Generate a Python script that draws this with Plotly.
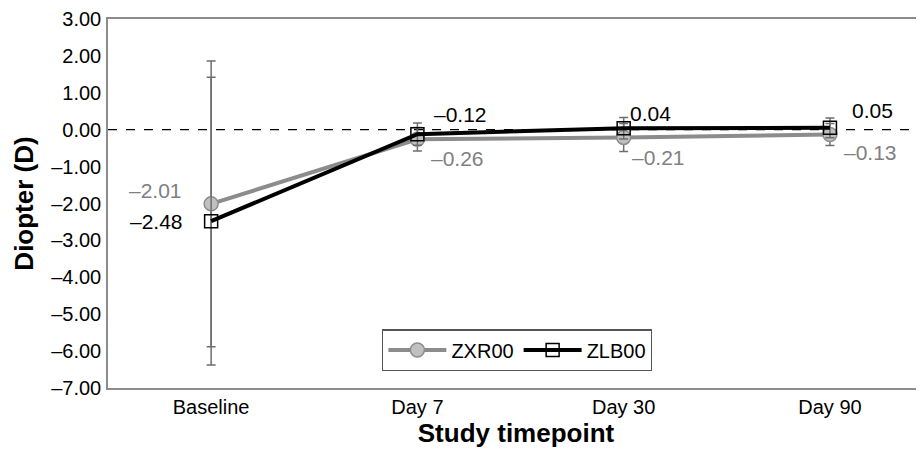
import plotly.graph_objects as go

categories = ["Baseline", "Day 7", "Day 30", "Day 90"]
zxr_mean = [-2.01, -0.26, -0.21, -0.13]
zxr_sd = [3.87, 0.32, 0.38, 0.30]
zlb_mean = [-2.48, -0.12, 0.04, 0.05]
zlb_sd = [3.90, 0.30, 0.29, 0.27]
ytick_vals = [3, 2, 1, 0, -1, -2, -3, -4, -5, -6, -7]
ytick_text = ["3.00", "2.00", "1.00", "0.00", "–1.00", "–2.00", "–3.00",
              "–4.00", "–5.00", "–6.00", "–7.00"]

def fmt(v):
    s = f"{abs(v):.2f}"
    return ("–" + s) if v < 0 else s

FONT = "Arial, Liberation Sans, sans-serif"
GRAY = "#8c8c8c"

fig = go.Figure()
fig.add_trace(go.Scatter(
    x=categories, y=zxr_mean, name="ZXR00", mode="lines+markers",
    line=dict(color=GRAY, width=4),
    marker=dict(symbol="circle", size=14, color="#c0c0c0",
                line=dict(color="#8c8c8c", width=1.5)),
    error_y=dict(type="data", array=zxr_sd, visible=True,
                 color="#6e6e6e", thickness=1.5, width=4.5),
))
fig.add_trace(go.Scatter(
    x=categories, y=zlb_mean, name="ZLB00", mode="lines+markers",
    line=dict(color="black", width=4),
    marker=dict(symbol="square-open", size=13, color="black",
                line=dict(color="black", width=1.5)),
    error_y=dict(type="data", array=zlb_sd, visible=True,
                 color="#6e6e6e", thickness=1.5, width=4.5),
))

# label offsets (style only)
zxr_shift = [(-27, 13, "right"), (12, -19, "left"), (6, -20, "left"), (12, -18, "left")]
zlb_shift = [(-26, 0, "right"), (15, 20, "left"), (4, 15, "left"), (20, 17, "left")]

annotations = []
for i, c in enumerate(categories):
    dx, dy, anc = zxr_shift[i]
    annotations.append(dict(x=c, y=zxr_mean[i], xref="x", yref="y",
                            text=fmt(zxr_mean[i]), showarrow=False,
                            xanchor=anc, yanchor="middle", xshift=dx, yshift=dy,
                            font=dict(family=FONT, size=21, color="#7f7f7f")))
    dx, dy, anc = zlb_shift[i]
    annotations.append(dict(x=c, y=zlb_mean[i], xref="x", yref="y",
                            text=fmt(zlb_mean[i]), showarrow=False,
                            xanchor=anc, yanchor="middle", xshift=dx, yshift=dy,
                            font=dict(family=FONT, size=21, color="black")))

fig.update_layout(
    width=916, height=450,
    margin=dict(l=100, r=0, t=8, b=70),
    paper_bgcolor="white", plot_bgcolor="white",
    font=dict(family=FONT, size=20, color="black"),
    showlegend=True,
    legend=dict(orientation="h", x=0.336, y=0.159, xanchor="left", yanchor="top",
                bgcolor="white", bordercolor="#555555", borderwidth=1.2,
                font=dict(family=FONT, size=20, color="black"),
                itemwidth=58, tracegroupgap=0),
    annotations=annotations,
    shapes=[dict(type="line", xref="paper", yref="y", x0=0, x1=1, y0=0, y1=0,
                 line=dict(color="black", width=1.3, dash="dash"), layer="below")],
    xaxis=dict(range=[-0.5, 3.456], showgrid=False, zeroline=False,
               showline=True, linecolor="#8c8c8c", linewidth=1.5, mirror=True,
               ticks="", tickfont=dict(family=FONT, size=20),
               title=dict(text="<b>Study timepoint</b>", standoff=4,
                          font=dict(family=FONT, size=26))),
    yaxis=dict(range=[-7, 3], tickvals=ytick_vals, ticktext=ytick_text,
               showgrid=False, zeroline=False, showline=True,
               linecolor="#8c8c8c", linewidth=1.5, ticks="",
               ticklabelstandoff=1, ticklabeloverflow="allow",
               tickfont=dict(family=FONT, size=20),
               title=dict(text="<b>Diopter (D)</b>", standoff=10,
                          font=dict(family=FONT, size=26))),
)

fig.write_html("out.html")
